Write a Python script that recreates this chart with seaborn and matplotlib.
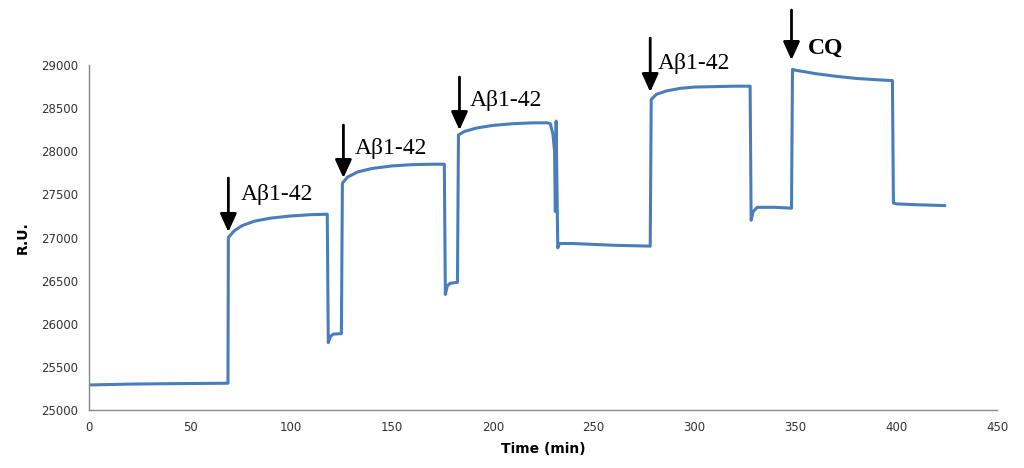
import matplotlib
matplotlib.use("Agg")
import matplotlib.pyplot as plt
import seaborn as sns
import pandas as pd

# ---- data ----
time_min = [0, 20, 40, 68.8,
            69, 72, 76, 82, 90, 100, 110, 118,
            118.5, 119.5, 121, 125,
            125.5, 128, 133, 140, 150, 160, 170, 176,
            176.5, 177.5, 179, 182.5,
            183, 186, 192, 200, 210, 220, 227, 228.5, 229.8, 230.6, 231.0, 231.4, 232.2, 233, 240, 260, 278,
            278.5, 281, 286, 293, 300, 310, 320, 327.5,
            328, 329, 331, 340, 348,
            348.5, 350, 360, 370, 380, 390, 398,
            398.5, 400, 410, 424]
ru = [25290, 25300, 25305, 25310,
      27000, 27080, 27140, 27190, 27225, 27250, 27265, 27270,
      25780, 25850, 25880, 25885,
      27630, 27700, 27760, 27800, 27830, 27845, 27850, 27850,
      26340, 26440, 26470, 26480,
      28190, 28230, 28270, 28300, 28320, 28330, 28330, 28320, 28200, 28000, 27300, 28350, 26880, 26930, 26930, 26910, 26900,
      28600, 28660, 28700, 28730, 28745, 28750, 28755, 28755,
      27200, 27300, 27350, 27350, 27340,
      28950, 28940, 28900, 28870, 28845, 28830, 28820,
      27400, 27390, 27380, 27370]

arrow_time = [69, 126, 183.5, 278, 348]
arrow_tip = [27064, 27690, 28246, 28687, 29058]
arrow_tail = [27690, 28304, 28861, 29313, 29638]
labels = ["Aβ1-42", "Aβ1-42", "Aβ1-42", "Aβ1-42", "CQ"]
label_x = [75.3, 131.8, 188.8, 281.5, 356.3]
label_y = [27493, 28038, 28594, 29023, 29197]
label_bold = [False, False, False, False, True]

xticks = [0, 50, 100, 150, 200, 250, 300, 350, 400, 450]
yticks = [25000, 25500, 26000, 26500, 27000, 27500, 28000, 28500, 29000]

sns.set_style("white")
plt.rcParams['font.family'] = ['DejaVu Sans']

df = pd.DataFrame({"t": time_min, "ru": ru})

fig = plt.figure(figsize=(10.24, 4.68), dpi=100)
ax = fig.add_axes([0.087, 0.124, 0.887, 0.737])
sns.lineplot(data=df, x="t", y="ru", sort=False, estimator=None,
             color="#4a7ebb", linewidth=2.2, ax=ax)

ax.set_xlim(0, 450)
ax.set_ylim(25000, 29000)
ax.set_xticks(xticks)
ax.set_yticks(yticks)
ax.tick_params(axis='both', length=0, labelsize=8.5, colors="#333333", pad=8)
for s in ["top", "right"]:
    ax.spines[s].set_visible(False)
for s in ["left", "bottom"]:
    ax.spines[s].set_color("#888888")
    ax.spines[s].set_linewidth(1.0)

ax.set_xlabel("Time (min)", fontsize=10, fontweight="bold", labelpad=6, color="black")
ax.set_ylabel("R.U.", fontsize=10, fontweight="bold", labelpad=8, color="black")

for t, tip, tail in zip(arrow_time, arrow_tip, arrow_tail):
    ax.annotate("", xy=(t, tip), xytext=(t, tail), annotation_clip=False,
                arrowprops=dict(arrowstyle="-|>,head_width=0.5,head_length=1.1",
                                color="black", lw=2, shrinkA=0, shrinkB=0))
for x, y, lab, b in zip(label_x, label_y, labels, label_bold):
    ax.text(x, y, lab, fontsize=17, family="Liberation Serif", color="black",
            fontweight="bold" if b else "normal", va="center", ha="left",
            clip_on=False)

fig.savefig("out.png", dpi=100)
